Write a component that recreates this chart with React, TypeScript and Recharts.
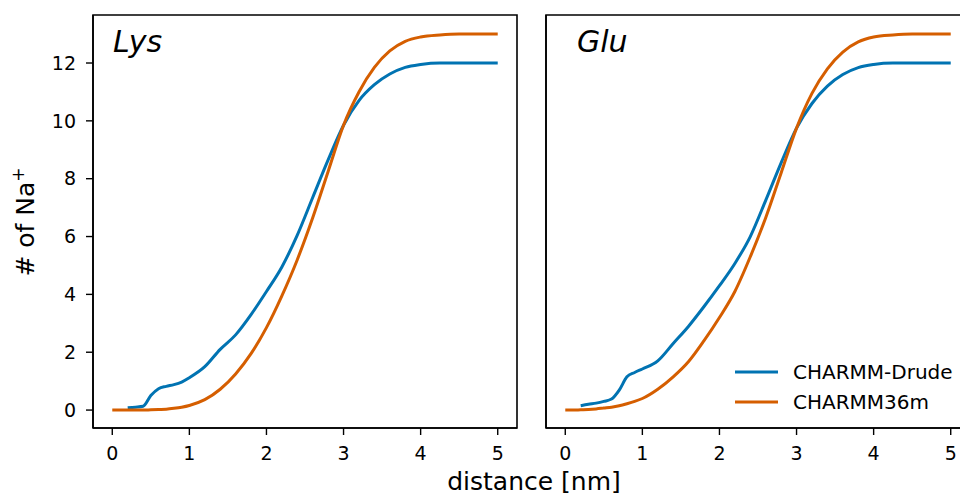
import React from "react";
import {
    LineChart,
    Line,
    XAxis,
    YAxis,
    ReferenceArea,
    Legend,
} from "recharts";

// distance [nm] sampled along both panels
const distance = [0, 0.1, 0.2, 0.3, 0.4, 0.5, 0.6, 0.7, 0.8, 0.9, 1.0, 1.2, 1.4, 1.6, 1.8, 2.0, 2.2, 2.4, 2.6, 2.8, 3.0, 3.2, 3.4, 3.6, 3.8, 4.0, 4.25, 4.5, 4.75, 5.0];

const lysDrude = [null, null, 0.08, 0.1, 0.13, 0.5, 0.74, 0.82, 0.88, 0.97, 1.12, 1.5, 2.1, 2.6, 3.3, 4.1, 4.95, 6.05, 7.35, 8.65, 9.85, 10.7, 11.25, 11.62, 11.85, 11.95, 12.0, 12.0, 12.0, 12.0];
const lysC36m = [0, 0, 0, 0, 0, 0.01, 0.02, 0.03, 0.06, 0.1, 0.16, 0.36, 0.72, 1.25, 1.95, 2.85, 3.95, 5.2, 6.65, 8.25, 9.85, 11.0, 11.85, 12.42, 12.75, 12.9, 12.97, 13.0, 13.0, 13.0];

const gluDrude = [null, null, 0.15, 0.2, 0.24, 0.3, 0.38, 0.69, 1.15, 1.3, 1.42, 1.7, 2.3, 2.9, 3.58, 4.3, 5.07, 6.0, 7.25, 8.55, 9.75, 10.6, 11.2, 11.6, 11.84, 11.95, 12.0, 12.0, 12.0, 12.0];
const gluC36m = [0, 0, 0.01, 0.02, 0.04, 0.07, 0.1, 0.15, 0.22, 0.3, 0.4, 0.72, 1.15, 1.68, 2.4, 3.2, 4.1, 5.3, 6.65, 8.2, 9.75, 10.95, 11.8, 12.38, 12.73, 12.9, 12.97, 13.0, 13.0, 13.0];

const xTicks = [0, 1, 2, 3, 4, 5];
const yTicks = [0, 2, 4, 6, 8, 10, 12];

const X_DOMAIN: [number, number] = [-0.25, 5.25];
const Y_DOMAIN: [number, number] = [-0.62, 13.66];

const BLUE = "#0173B2";
const ORANGE = "#D55E00";
const FONT = "DejaVu Sans, sans-serif";

const lysData = distance.map((d, i) => ({ d, drude: lysDrude[i], c36m: lysC36m[i] }));
const gluData = distance.map((d, i) => ({ d, drude: gluDrude[i], c36m: gluC36m[i] }));

const tickStyle = { fontSize: 19, fill: "#000", fontFamily: FONT };

function LegendContent(props: any) {
    const payload = props.payload || [];
    return (
        <div style={{ fontFamily: FONT, fontSize: 20, color: "#000" }}>
            {payload.map((entry: any) => (
                <div key={entry.value} style={{ display: "flex", alignItems: "center", height: 30 }}>
                    <svg width={43} height={6}>
                        <line x1={0} y1={3} x2={43} y2={3} stroke={entry.color} strokeWidth={3} />
                    </svg>
                    <span style={{ marginLeft: 15 }}>{entry.value}</span>
                </div>
            ))}
        </div>
    );
}

function Panel({ data, showLabels, legend }: { data: any[]; showLabels: boolean; legend: boolean }) {
    return (
        <LineChart width={showLabels ? 530 : 453} height={495} data={data} margin={{ top: 15, right: 13, bottom: 0, left: 0 }}>
            <ReferenceArea x1={X_DOMAIN[0]} x2={X_DOMAIN[1]} y1={Y_DOMAIN[0]} y2={Y_DOMAIN[1]} fill="none" stroke="#000" strokeWidth={1.6} />
            <XAxis
                dataKey="d"
                type="number"
                domain={X_DOMAIN}
                ticks={xTicks}
                allowDataOverflow
                height={67}
                tickSize={7}
                tickMargin={12}
                tick={tickStyle}
                axisLine={{ stroke: "#000", strokeWidth: 1.6 }}
                tickLine={{ stroke: "#000", strokeWidth: 1.4 }}
            />
            <YAxis
                type="number"
                domain={Y_DOMAIN}
                ticks={yTicks}
                allowDataOverflow
                width={showLabels ? 93 : 16}
                tickSize={7}
                tickMargin={10}
                tick={showLabels ? tickStyle : false}
                axisLine={{ stroke: "#000", strokeWidth: 1.6 }}
                tickLine={{ stroke: "#000", strokeWidth: 1.4 }}
            />
            <Line type="monotone" dataKey="drude" name="CHARMM-Drude" stroke={BLUE} strokeWidth={3} dot={false} isAnimationActive={false} />
            <Line type="monotone" dataKey="c36m" name="CHARMM36m" stroke={ORANGE} strokeWidth={3} dot={false} isAnimationActive={false} />
            {legend && (
                <Legend
                    layout="vertical"
                    align="center"
                    verticalAlign="middle"
                    content={<LegendContent />}
                    wrapperStyle={{ left: 205, top: 357, width: "auto" }}
                />
            )}
        </LineChart>
    );
}

export default function App() {
    return (
        <div style={{ position: "absolute", left: 0, top: 0, width: 960, height: 495, overflow: "hidden", background: "#fff", fontFamily: FONT }}>
            <div style={{ position: "absolute", left: 0, top: 0 }}>
                <Panel data={lysData} showLabels legend={false} />
            </div>
            <div style={{ position: "absolute", left: 530, top: 0 }}>
                <Panel data={gluData} showLabels={false} legend />
            </div>
            <svg width={960} height={495} style={{ position: "absolute", left: 0, top: 0, pointerEvents: "none" }}>
                <text x={113} y={52} fontSize={30} fontStyle="italic" fontFamily={FONT} fill="#000">Lys</text>
                <text x={577} y={52} fontSize={30} fontStyle="italic" fontFamily={FONT} fill="#000">Glu</text>
                <text x={534} y={490} fontSize={25} textAnchor="middle" fontFamily={FONT} fill="#000">distance [nm]</text>
                <text transform="translate(34,222) rotate(-90)" fontSize={25} textAnchor="middle" fontFamily={FONT} fill="#000">
                    # of Na<tspan fontSize={17} dy={-10}>+</tspan>
                </text>
            </svg>
        </div>
    );
}
